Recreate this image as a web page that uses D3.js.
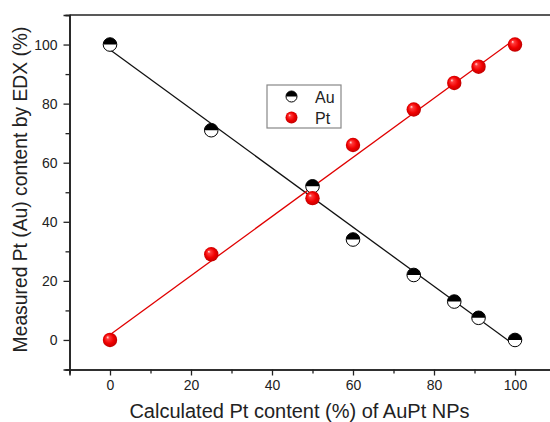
<!DOCTYPE html>
<html><head><meta charset="utf-8">
<script src="https://cdn.jsdelivr.net/npm/d3@7"></script>
<style>body{margin:0;background:#fff}svg{display:block}text{font-family:"Liberation Sans",Arial,sans-serif;fill:#222}</style>
</head><body>
<svg id="c" width="550" height="422"></svg>
<script>
const calcPt = [0, 25, 50, 60, 75, 85, 91, 100];
const auMeasured = [100, 71, 52, 34, 22, 13, 7.5, 0];
const ptMeasured = [0, 29, 48, 66, 78, 87, 92.5, 100];
const xMajor = [0, 20, 40, 60, 80, 100];
const xMinor = [-10, 10, 30, 50, 70, 90, 110];
const yMajor = [0, 20, 40, 60, 80, 100];
const yMinor = [-10, 10, 30, 50, 70, 90, 110];
const seriesNames = ["Au", "Pt"];

const svg = d3.select("#c");
const x = d3.scaleLinear().domain([-10, 110]).range([69.5, 555.5]);
const y = d3.scaleLinear().domain([-10, 110]).range([369.5, 15]);

const defs = svg.append("defs");
const g = defs.append("radialGradient").attr("id","sph").attr("cx","0.5").attr("cy","0.5").attr("r","0.55").attr("fx","0.32").attr("fy","0.3");
g.append("stop").attr("offset","0").attr("stop-color","#ffe6e6");
g.append("stop").attr("offset","0.2").attr("stop-color","#ff3a3a");
g.append("stop").attr("offset","0.6").attr("stop-color","#f00000");
g.append("stop").attr("offset","1").attr("stop-color","#b80000");

// axes
svg.append("g").attr("transform",`translate(0,${y(-10)})`)
  .call(d3.axisBottom(x).tickValues(xMajor).tickSize(6).tickPadding(5).tickFormat(d3.format("d")))
  .attr("font-size",14).attr("font-family",null);
svg.append("g").attr("transform",`translate(0,${y(-10)})`)
  .call(d3.axisBottom(x).tickValues(xMinor).tickSize(4).tickFormat(""));
svg.append("g").attr("transform",`translate(${x(-10)},0)`)
  .call(d3.axisLeft(y).tickValues(yMajor).tickSize(6).tickPadding(6).tickFormat(d3.format("d")))
  .attr("font-size",14).attr("font-family",null);
svg.append("g").attr("transform",`translate(${x(-10)},0)`)
  .call(d3.axisLeft(y).tickValues(yMinor).tickSize(4).tickFormat(""));
svg.selectAll(".domain").attr("stroke","#222").attr("stroke-width",1.6);
svg.selectAll(".tick line").attr("stroke","#222").attr("stroke-width",1.3);
svg.selectAll(".tick text").attr("fill","#222").style("font-size","14px");
// top frame line
svg.append("line").attr("x1",x(-10)).attr("x2",x(110)).attr("y1",y(110)).attr("y2",y(110))
  .attr("stroke","#222").attr("stroke-width",1.6);

// linear fits
function fit(xs, ys){
  const mx=d3.mean(xs), my=d3.mean(ys);
  let sxy=0,sxx=0; xs.forEach((v,i)=>{sxy+=(v-mx)*(ys[i]-my); sxx+=(v-mx)*(v-mx);});
  const b=sxy/sxx; return {a:my-b*mx,b};
}
const line = d3.line().x(d=>x(d[0])).y(d=>y(d[1]));
[[auMeasured,"#111"],[ptMeasured,"#e00000"]].forEach(([ys,col])=>{
  const f=fit(calcPt,ys);
  const x0=d3.min(calcPt), x1=d3.max(calcPt);
  svg.append("path").attr("d",line([[x0,f.a+f.b*x0],[x1,f.a+f.b*x1]]))
    .attr("stroke",col).attr("stroke-width",1.3).attr("fill","none");
});

function auMarker(sel, cx, cy, r){
  const gg = sel.append("g").attr("transform",`translate(${cx},${cy})`);
  gg.append("circle").attr("r",r).attr("fill","#fff");
  gg.append("path").attr("d",d3.arc()({innerRadius:0,outerRadius:r,startAngle:-Math.PI/2,endAngle:Math.PI/2})).attr("fill","#000");
  gg.append("circle").attr("r",r).attr("fill","none").attr("stroke","#000").attr("stroke-width",1);
}
function ptMarker(sel, cx, cy, r){
  sel.append("circle").attr("cx",cx).attr("cy",cy).attr("r",r).attr("fill","url(#sph)");
}

const pts = svg.append("g");
calcPt.forEach((v,i)=>auMarker(pts, x(v), y(auMeasured[i]), 6.8));
calcPt.forEach((v,i)=>ptMarker(pts, x(v), y(ptMeasured[i]), 7.2));

// legend
const lg = svg.append("g");
lg.append("rect").attr("x",267).attr("y",85).attr("width",74).attr("height",43)
  .attr("fill","#fff").attr("stroke","#888").attr("stroke-width",1.2);
auMarker(lg, 291.5, 96.5, 5.5);
ptMarker(lg, 291.5, 117.5, 6);
lg.append("text").attr("x",315).attr("y",102.5).style("font-size","16px").text(seriesNames[0]);
lg.append("text").attr("x",315).attr("y",123.5).style("font-size","16px").text(seriesNames[1]);

// axis titles
svg.append("text").attr("x",299.5).attr("y",417.5).attr("text-anchor","middle").style("font-size","20px")
  .text("Calculated Pt content (%) of AuPt NPs");
svg.append("text").attr("transform","translate(27,189.5) rotate(-90)").attr("text-anchor","middle").style("font-size","19.3px")
  .text("Measured Pt (Au) content by EDX (%)");
</script>
</body></html>
